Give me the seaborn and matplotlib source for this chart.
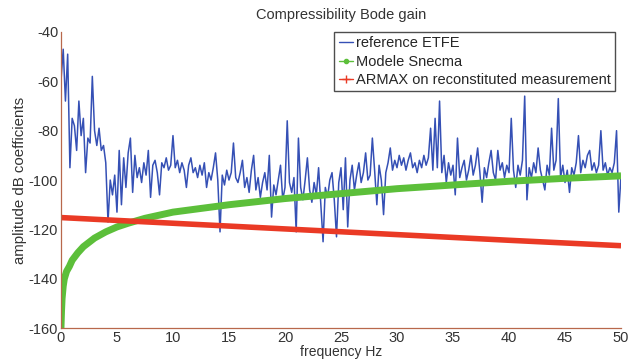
import matplotlib
matplotlib.use('Agg')
import matplotlib.pyplot as plt
from matplotlib.lines import Line2D
import numpy as np
import pandas as pd
import seaborn as sns

# valeurs
freq_etfe = np.round(np.arange(0, 50.01, 0.2), 1)
gain_etfe = [
    -60, -47, -68, -49, -95, -75, -78, -88, -68, -82,
    -75, -97, -83, -85, -58, -80, -86, -79, -88, -86,
    -93, -117, -100, -106, -98, -113, -88, -110, -91, -103,
    -89, -83, -105, -90, -99, -95, -101, -93, -98, -88,
    -107, -94, -92, -97, -106, -93, -95, -91, -96, -94,
    -82, -95, -92, -97, -93, -96, -103, -94, -91, -97,
    -95, -99, -94, -98, -93, -103, -97, -100, -95, -89,
    -100, -121, -98, -102, -96, -100, -97, -85, -99, -101,
    -97, -92, -103, -99, -105, -96, -90, -104, -99, -107,
    -101, -97, -104, -90, -115, -102, -106, -100, -94, -108,
    -103, -76, -101, -105, -99, -121, -83, -103, -108, -100,
    -91, -104, -109, -101, -106, -95, -110, -125, -103, -107,
    -100, -97, -108, -123, -101, -95, -112, -91, -119, -100,
    -94, -104, -98, -93, -101, -97, -89, -100, -98, -83,
    -96, -110, -94, -100, -114, -97, -93, -87, -96, -92,
    -95, -90, -94, -91, -96, -92, -89, -95, -93, -97,
    -92, -95, -90, -94, -91, -79, -96, -75, -95, -68,
    -97, -90, -101, -93, -98, -94, -106, -83, -99, -95,
    -92, -100, -96, -90, -98, -94, -87, -97, -109, -95,
    -99, -93, -88, -97, -100, -88, -96, -93, -99, -94,
    -97, -75, -96, -103, -94, -98, -92, -66, -108, -95,
    -99, -93, -97, -87, -96, -100, -104, -94, -98, -79,
    -96, -92, -67, -99, -94, -101, -96, -105, -95, -98,
    -93, -82, -97, -92, -95, -90, -88, -96, -93, -97,
    -94, -80, -96, -93, -98, -95, -97, -93, -80, -113,
    -98,
]

freq_snecma = [0, 0.05, 0.1, 0.2, 0.3, 0.5, 0.75, 1, 1.5, 2, 3, 4, 5, 6, 7.5, 10,
               12.5, 15, 20, 25, 30, 35, 40, 45, 50]
gain_snecma = [-160, -153, -148, -143, -140, -137, -135, -132.5, -129.5, -127,
               -123.5, -121, -119, -117.5, -115.5, -113, -111.5, -110, -107.5,
               -105.5, -103.5, -102, -100.5, -99.3, -98.3]

freq_armax = [0, 10, 20, 30, 40, 50]
gain_armax = [-115.2, -117.5, -119.8, -122.1, -124.4, -126.6]

sns.set_style('white')
plt.rcParams['font.family'] = ['Liberation Sans', 'DejaVu Sans']
plt.rcParams['axes.unicode_minus'] = False

fig = plt.figure(figsize=(6.35, 3.63), dpi=100)
ax = fig.add_axes([0.096, 0.096, 0.882, 0.816])

bleu = '#3550b5'
vert = '#5cbf3a'
rouge = '#ea3a25'

sns.lineplot(x=freq_etfe, y=gain_etfe, color=bleu, linewidth=1.1, ax=ax)
sns.lineplot(x=freq_snecma, y=gain_snecma, color=vert, linewidth=5, ax=ax,
             solid_capstyle='butt')
sns.lineplot(x=freq_armax, y=gain_armax, color=rouge, linewidth=4, ax=ax,
             solid_capstyle='butt')

ax.set_xlim(0, 50)
ax.set_ylim(-160, -40)
ax.set_xticks(range(0, 51, 5))
ax.set_yticks(range(-160, -39, 20))
ax.tick_params(direction='in', length=4, width=0.8, colors='#333333',
               labelsize=10.5, pad=2)
for s in ['top', 'right']:
    ax.spines[s].set_visible(False)
for s in ['left', 'bottom']:
    ax.spines[s].set_color('#b8684c')
    ax.spines[s].set_linewidth(0.9)

ax.set_title('Compressibility Bode gain', fontsize=10.5, color='#333333', pad=9)
ax.set_xlabel('frequency Hz', fontsize=10, color='#333333', labelpad=0)
ax.set_ylabel('amplitude dB coefficients', fontsize=10.8, color='#333333', labelpad=1)

handles = [
    Line2D([], [], color=bleu, linewidth=1),
    Line2D([], [], color=vert, linewidth=1, marker='.', markersize=6),
    Line2D([], [], color=rouge, linewidth=1, marker='+', markersize=6),
]
labels = ['reference ETFE', 'Modele Snecma', 'ARMAX on reconstituted measurement']
leg = ax.legend(handles, labels, loc='upper right', bbox_to_anchor=(0.99, 1.0),
                borderaxespad=0, fontsize=10.5, handlelength=1.0, handletextpad=0.2,
                labelspacing=0.3, borderpad=0.3, frameon=True, fancybox=False)
leg.get_frame().set_edgecolor('#222222')
leg.get_frame().set_linewidth(1.0)

plt.savefig('out.png', dpi=100)
